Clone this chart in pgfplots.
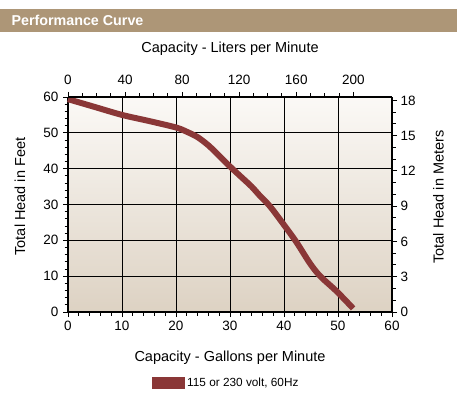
\documentclass[border=0pt]{standalone}
\usepackage{pgfplots}
\pgfplotsset{compat=1.18}
\usepackage{fontspec}
\setmainfont{Liberation Sans}
\definecolor{banner}{HTML}{AD9677}
\definecolor{curve}{HTML}{8A3737}
\definecolor{bgtop}{HTML}{FBF9F6}
\definecolor{bgbot}{HTML}{DDD2C3}
\begin{document}
\begin{tikzpicture}
\useasboundingbox (0pt,0pt) rectangle (457pt,394pt);
\fill[banner] (0pt,362pt) rectangle (457pt,385pt);
\node[anchor=west,text=white,font=\bfseries\fontsize{14.3}{16}\selectfont] at (8pt,373.5pt) {Performance Curve};
\begin{axis}[
  at={(68pt,82pt)}, anchor=south west,
  width=324pt, height=215pt, scale only axis,
  xmin=0, xmax=60, ymin=0, ymax=60,
  xtick={0,10,...,60}, ytick={0,10,...,60},
  minor x tick num=4, minor y tick num=4,
  axis x line*=bottom, axis y line*=left,
  axis line style={line width=1.1pt,-},
  tick align=outside, major tick length=5pt, minor tick length=3.5pt,
  tick style={black, line width=1pt},
  grid=major, major grid style={black, line width=0.7pt},
  axis background/.style={top color=bgtop, bottom color=bgbot},
  /pgf/number format/assume math mode=true,
  ticklabel style={font=\fontsize{13.5}{15}\selectfont},
  xticklabel style={yshift=-1pt},
  yticklabel style={xshift=-1pt},
  xlabel={Capacity - Gallons per Minute},
  ylabel={Total Head in Feet},
  label style={font=\fontsize{14.5}{16}\selectfont},
  xlabel style={at={(rel axis cs:0.5,-0.214)}, anchor=center},
  ylabel style={at={(rel axis cs:-0.148,0.537)}, anchor=center, rotate=0},
  legend style={draw=none, fill=none, at={(0.25,-0.33)}, anchor=west, font=\fontsize{11.8}{13}\selectfont},
  legend image code/.code={\fill[curve] (0pt,-3pt) rectangle (27pt,3pt);},
  clip=false,
]
\addplot[curve, line width=6pt, smooth, tension=0.5] coordinates {
(0,59.4) (5,57.2) (10,55.0) (15,53.3) (20,51.5) (22,50.3) (24,48.8) (26,46.5) (28,43.6) (30,40.6) (32,37.8) (34,35.0) (35.5,32.5) (37.4,29.5) (40,24.3) (42.3,19.5) (44.8,13.6) (46.7,10.0) (49.8,5.7) (52.8,1.0)
};
\addlegendentry{115 or 230 volt, 60Hz}
\end{axis}
\begin{axis}[
  at={(68pt,82pt)}, anchor=south west,
  width=324pt, height=215pt, scale only axis,
  xmin=0, xmax=227.1246, ymin=0, ymax=18.288,
  xtick={0,40,...,200}, ytick={0,3,...,18},
  minor x tick num=3, minor y tick num=2,
  axis x line*=top, axis y line*=right,
  axis line style={line width=1.1pt,-},
  tick align=outside, major tick length=5pt, minor tick length=3.5pt,
  tick style={black, line width=1pt},
  /pgf/number format/assume math mode=true,
  ticklabel style={font=\fontsize{13.5}{15}\selectfont},
  xticklabel style={yshift=4pt},
  xlabel={Capacity - Liters per Minute},
  ylabel={Total Head in Meters},
  label style={font=\fontsize{14.5}{16}\selectfont},
  xlabel style={at={(rel axis cs:0.5,1.223)}, anchor=center},
  ylabel style={at={(rel axis cs:1.1435,0.535)}, anchor=center},
]
\end{axis}
\end{tikzpicture}
\end{document}
